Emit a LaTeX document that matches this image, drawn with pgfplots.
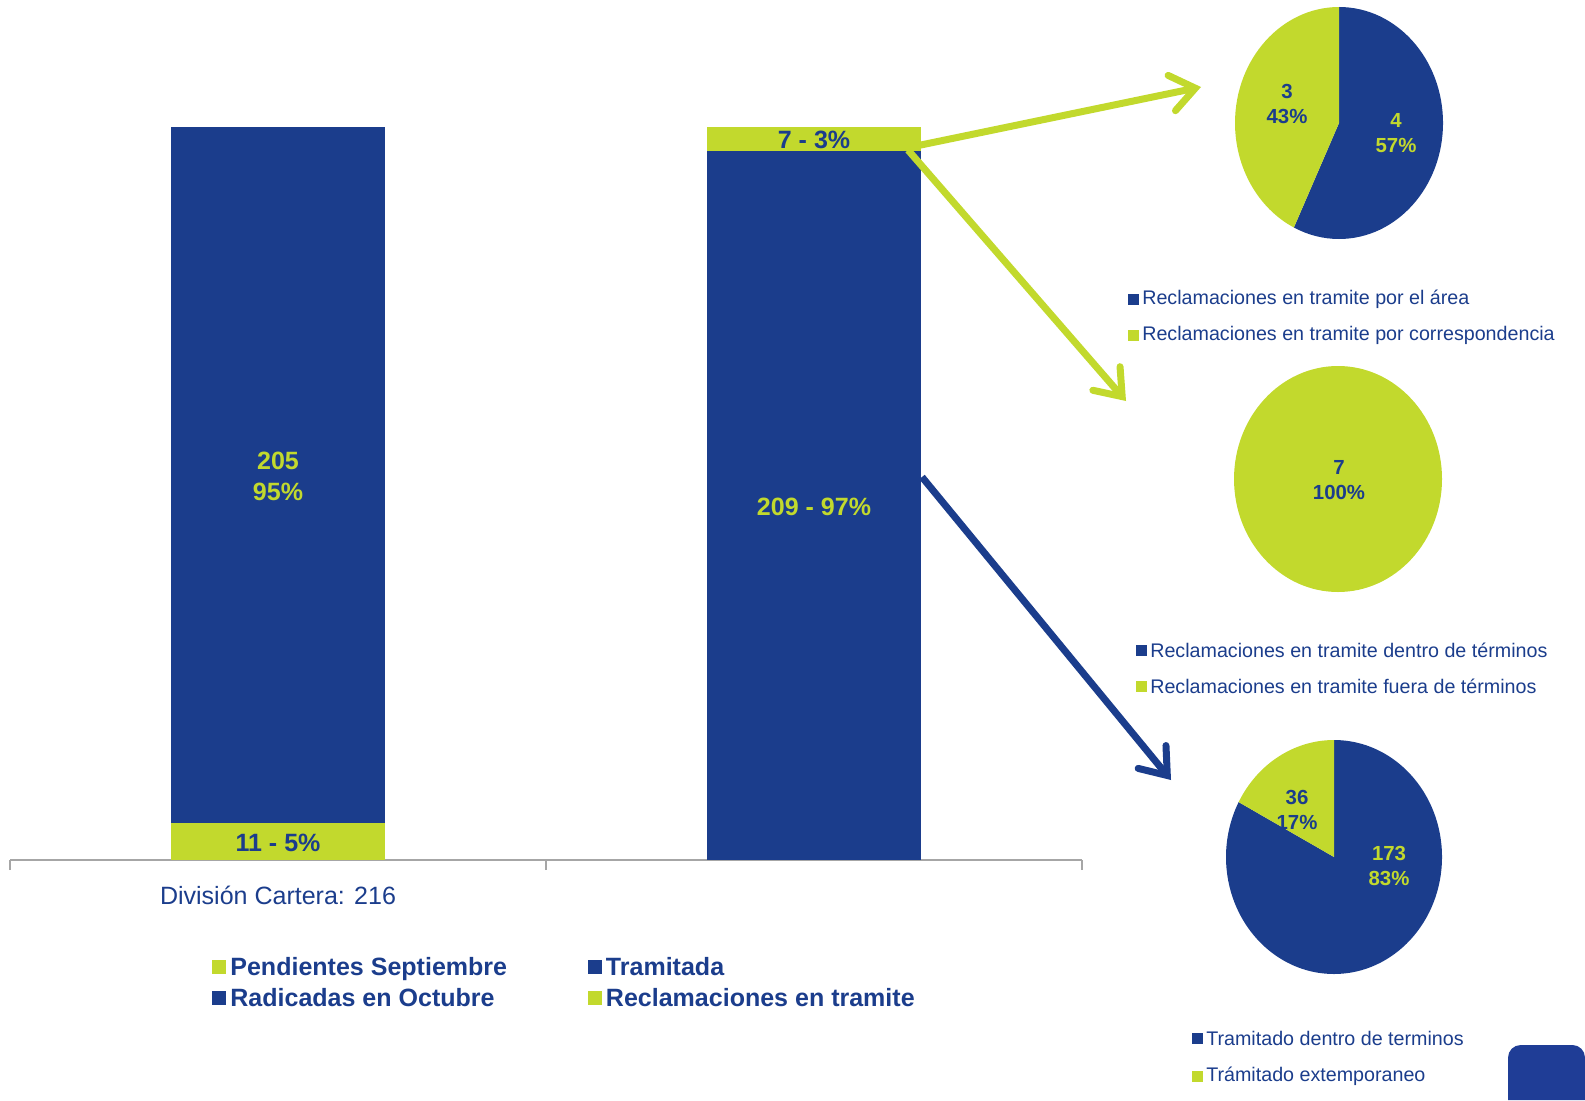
\documentclass[border=0pt]{standalone}
\usepackage{pgfplots}
\pgfplotsset{compat=1.18}
\usepackage{pgfplotstable}
\usepackage{fontspec}
\setmainfont{Liberation Sans}
\usetikzlibrary{arrows.meta}
\definecolor{cblue}{RGB}{27,61,140}
\definecolor{cgreen}{RGB}{194,217,45}
\definecolor{cbox}{RGB}{31,61,150}

% stacked bars: left = Division Cartera (216), right = its status
\pgfplotstableread{
x   pend tram rad recl
0.5 11   0    205 0
1.5 0    209  0   7
}\bardata

% pie values
\def\pAblue{4}\def\pAgreen{3}     % en tramite: por el area / por correspondencia
\def\pBblue{0}\def\pBgreen{7}     % dentro / fuera de terminos
\def\pCblue{173}\def\pCgreen{36}  % tramitado dentro de terminos / extemporaneo

\newcommand{\bigf}{\fontsize{17.8}{22}\selectfont}
\newcommand{\smallf}{\fontsize{14}{16.5}\selectfont}
\newcommand{\pief}{\fontsize{14.5}{17.8}\selectfont\bfseries}

% \pie{cx}{cy}{rx}{ry}{blue}{green}
\newcommand{\pie}[6]{%
  \pgfmathsetmacro\pend{90-360*(#5/(#5+#6))}%
  \ifdim #5pt>0pt
    \fill[cblue] (#1,#2) -- ++(90:#3 and #4) arc[start angle=90, end angle=\pend, x radius=#3, y radius=#4] -- cycle;
  \fi
  \ifdim #6pt>0pt
    \fill[cgreen] (#1,#2) -- ++(90:#3 and #4) arc[start angle=90, end angle=\pend+360, x radius=#3, y radius=#4] -- cycle;
  \fi
}
% \legitem{x}{y}{color}{text}
\newcommand{\legitem}[4]{%
  \fill[#3] (#1,#2-5.5) rectangle (#1+11,#2+5.5);
  \node[anchor=west, inner sep=0pt, text=cblue, font=\smallf] at (#1+14,#2) {#4};
}
\tikzset{bigarrow/.style={line width=1.75mm,
  -{Straight Barb[length=6mm, width=9mm, line cap=round, line join=miter]}}}

\begin{document}%
\noindent\begin{tikzpicture}[x=0.25mm,y=0.25mm]
\path (0,0) rectangle (1585,-1100);
\fill[cbox, rounded corners=9] (1508,-1100) |- (1585,-1045) [sharp corners] |- cycle;
\coordinate (axorig) at (10,-860);

\begin{axis}[
  at={(axorig)}, anchor=south west,
  scale only axis, width=268mm, height=183.25mm,
  xmin=0, xmax=2, ymin=0, ymax=216,
  ybar stacked, bar width=53.5mm,
  axis x line=bottom, axis y line=none,
  x axis line style={-, draw=gray!70, line width=0.5mm},
  xtick={0,1,2}, xticklabels={},
  tick align=outside, major tick length=2.5mm,
  tick style={draw=gray!70, line width=0.5mm},
  clip=false,
  every axis plot post/.append style={
    legend image code/.code={\fill[##1] (0mm,-1.75mm) rectangle (3.5mm,1.75mm);}},
  legend columns=2,
  legend cell align=left,
  legend style={at={(0.1885,-0.1285)}, anchor=north west, draw=none, fill=none,
    text=cblue, font=\bigf\bfseries, inner sep=0pt, row sep=1.2mm,
    /tikz/every even column/.append style={column sep=19.5mm},
    /tikz/every odd column/.append style={column sep=0.3mm}},
]
\addplot[fill=cgreen, draw=none] table[x=x, y=pend]{\bardata};
\addlegendentry{Pendientes Septiembre}
\addplot[fill=cblue, draw=none] table[x=x, y=tram]{\bardata};
\addlegendentry{Tramitada}
\addplot[fill=cblue, draw=none] table[x=x, y=rad]{\bardata};
\addlegendentry{Radicadas en Octubre}
\addplot[fill=cgreen, draw=none] table[x=x, y=recl]{\bardata};
\addlegendentry{Reclamaciones en tramite}

\coordinate (lA) at (axis cs:0.5,113);
\coordinate (lB) at (axis cs:0.5,5.0);
\coordinate (lC) at (axis cs:1.5,104);
\coordinate (lD) at (axis cs:1.5,212.3);
\coordinate (lE) at (axis cs:0.5,-10.5);
\end{axis}

% bar labels (drawn after the stacked bars)
\node[text=cgreen, font=\bigf\bfseries, align=center] at (lA) {205\\95\%};
\node[text=cblue, font=\bigf\bfseries] at (lB) {11 - 5\%};
\node[text=cgreen, font=\bigf\bfseries] at (lC) {209 - 97\%};
\node[text=cblue, font=\bigf\bfseries] at (lD) {7 - 3\%};
\node[text=cblue, font=\bigf] at (lE) {División Cartera: 216};

% arrows
\draw[cgreen, bigarrow] (916,-146) -- (1201,-87);
\draw[cgreen, bigarrow] (908,-150) -- (1126,-401);
\draw[cblue, bigarrow] (922,-477) -- (1171,-780);

% pie 1
\pie{1339}{-123}{104}{116}{\pAblue}{\pAgreen}
\node[text=cblue, font=\pief, align=center] at (1287,-104) {3\\43\%};
\node[text=cgreen, font=\pief, align=center] at (1396,-133) {4\\57\%};
\legitem{1128}{-299}{cblue}{Reclamaciones en tramite por el área}
\legitem{1128}{-335}{cgreen}{Reclamaciones en tramite por correspondencia}

% pie 2
\pie{1338}{-479}{104}{113}{\pBblue}{\pBgreen}
\node[text=cblue, font=\pief, align=center] at (1339,-480) {7\\100\%};
\legitem{1136}{-650}{cblue}{Reclamaciones en tramite dentro de términos}
\legitem{1136}{-686}{cgreen}{Reclamaciones en tramite fuera de términos}

% pie 3
\pie{1334}{-857}{108}{117}{\pCblue}{\pCgreen}
\node[text=cblue, font=\pief, align=center] at (1297,-810) {36\\17\%};
\node[text=cgreen, font=\pief, align=center] at (1389,-866) {173\\83\%};
\legitem{1192}{-1038}{cblue}{Tramitado dentro de terminos}
\legitem{1192}{-1076}{cgreen}{Trámitado extemporaneo}

\pgfresetboundingbox
\path[use as bounding box] (0,0) rectangle (1585,-1100);
\end{tikzpicture}%
\end{document}
